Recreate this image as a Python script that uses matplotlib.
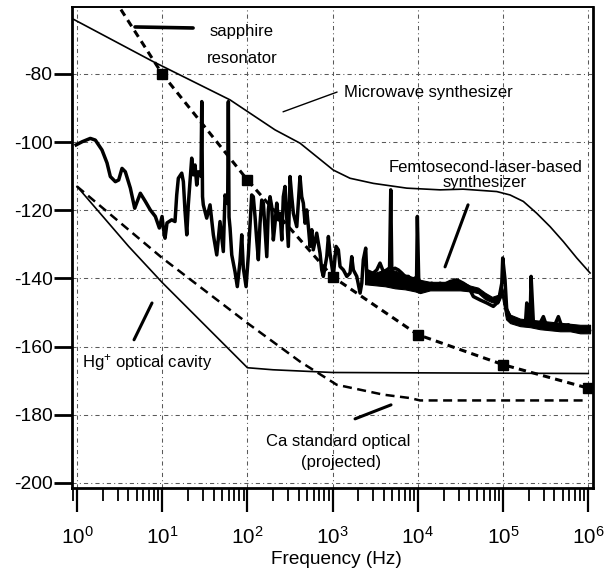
import numpy as np
import matplotlib
matplotlib.use('Agg')
import matplotlib.pyplot as plt
from matplotlib import font_manager as fm
from matplotlib.ticker import FixedLocator, NullFormatter, LogLocator

# ---------------- data (log10 frequency in Hz, phase noise in dBc/Hz) -------------
microwave_logf = [-0.06, 0.896, 1.796, 2.324, 2.617, 3.008, 3.204, 3.478, 3.870, 4.261,
                  4.531, 4.926, 5.082, 5.238, 5.396, 5.552, 5.708, 5.865, 6.021]
microwave_db = [-63.7, -76.4, -87.6, -96.4, -100.3, -108.2, -110.6, -112.1, -113.5, -114.0,
                -113.8, -114.5, -115.5, -117.4, -120.9, -124.8, -129.2, -134.0, -138.4]

sapphire_logf = [0, 1, 2, 3, 4, 5, 6]
sapphire_db = [-41.0, -80.0, -111.1, -139.5, -156.5, -165.3, -172.2]

hg_logf = [0, 0.606, 1, 2, 2.3, 3, 6]
hg_db = [-113.0, -130.6, -141.2, -166.2, -166.8, -167.6, -167.9]

ca_logf = [0, 1, 2, 2.617, 3.048, 3.595, 3.908, 4.026, 6]
ca_db = [-113.0, -134.0, -153.1, -164.4, -171.2, -174.1, -175.1, -175.8, -175.8]

femto_logf = [-0.01, 0.059, 0.156, 0.215, 0.293, 0.352, 0.391, 0.450, 0.489, 0.528,
              0.567, 0.626, 0.677, 0.743, 0.802, 0.860, 0.919, 0.966, 0.998, 1.013,
              1.033, 1.056, 1.111, 1.150, 1.170, 1.189, 1.229, 1.248, 1.268, 1.288,
              1.306, 1.346, 1.365, 1.385, 1.405, 1.424, 1.455, 1.464, 1.473, 1.482,
              1.522, 1.561, 1.600, 1.640, 1.678, 1.717, 1.737, 1.768, 1.776, 1.784,
              1.796, 1.816, 1.854, 1.881, 1.913, 1.933, 1.952, 1.984, 2.011, 2.050,
              2.069, 2.089, 2.109, 2.128, 2.148, 2.168, 2.187, 2.207, 2.227, 2.245,
              2.265, 2.285, 2.304, 2.324, 2.344, 2.363, 2.383, 2.403, 2.421, 2.441,
              2.461, 2.480, 2.500, 2.520, 2.539, 2.579, 2.617, 2.637, 2.656, 2.676,
              2.696, 2.715, 2.735, 2.755, 2.773, 2.813, 2.852, 2.872, 2.891, 2.931,
              2.950, 2.969, 3.008, 3.040, 3.067, 3.087, 3.126, 3.166, 3.204, 3.224,
              3.243, 3.283, 3.322, 3.342, 3.360, 3.388, 3.400, 3.439, 3.478, 3.518,
              3.556, 3.595, 3.635, 3.668, 3.682, 3.694, 3.732, 3.771, 3.811, 3.850,
              3.889, 3.928, 3.967, 3.985, 3.994, 4.010, 4.046, 4.104, 4.163, 4.222,
              4.261, 4.299, 4.378, 4.457, 4.534, 4.593, 4.651, 4.730, 4.809, 4.886,
              4.945, 4.985, 4.996, 5.023, 5.043, 5.082, 5.141, 5.161, 5.200, 5.238,
              5.264, 5.278, 5.297, 5.317, 5.329, 5.356, 5.415, 5.473, 5.513, 5.590,
              5.649, 5.689, 5.767, 5.825, 5.884, 5.942, 6.013]
femto_db = [-100.8, -99.9, -98.9, -99.4, -102.3, -106.1, -110.1, -111.6, -111.1, -107.7,
            -108.7, -113.5, -119.4, -115.0, -117.4, -119.9, -121.8, -125.2, -121.8, -125.2,
            -128.2, -123.7, -122.8, -123.3, -115.5, -110.6, -109.1, -111.6, -120.4, -127.2,
            -118.4, -104.7, -109.6, -106.7, -112.6, -108.7, -110.0, -88.1, -116.0, -118.4,
            -122.3, -118.4, -127.2, -133.1, -123.3, -132.1, -115.5, -118.0, -88.1, -122.0,
            -125.2, -133.1, -138.0, -142.4, -135.0, -127.2, -137.0, -142.4, -133.1, -115.5,
            -116.0, -121.8, -128.7, -134.5, -123.8, -117.0, -117.9, -125.7, -133.6, -119.9,
            -116.0, -118.9, -128.7, -123.8, -117.9, -122.8, -120.9, -128.7, -116.0, -113.0,
            -121.8, -130.6, -110.1, -116.0, -120.9, -124.8, -110.1, -116.0, -117.9, -123.8,
            -119.9, -124.8, -130.6, -125.7, -131.6, -126.7, -132.6, -137.5, -139.4, -133.6,
            -127.7, -132.6, -139.4, -130.6, -131.6, -136.5, -137.5, -139.4, -138.4, -133.6,
            -137.5, -139.4, -144.3, -141.4, -134.5, -131.1, -138.4, -139.4, -138.4, -137.5,
            -135.5, -138.0, -137.5, -136.9, -114.0, -137.5, -137.0, -137.5, -138.4, -139.4,
            -139.4, -140.4, -139.9, -139.8, -121.8, -140.4, -141.4, -141.9, -141.4, -142.4,
            -141.4, -141.9, -140.9, -140.4, -141.4, -142.4, -145.3, -146.3, -147.2, -148.2,
            -146.8, -141.4, -134.0, -140.4, -149.2, -151.2, -152.1, -152.6, -153.1, -153.1,
            -152.7, -147.2, -153.1, -152.7, -139.4, -153.1, -154.1, -151.2, -154.1, -154.6,
            -151.2, -154.1, -153.6, -155.1, -154.6, -155.6, -155.1]

# envelope of the dense noise band of the femtosecond trace (upper / lower edge)
band_logf = [3.380, 3.498, 3.615, 3.732, 3.850, 3.967, 4.026, 4.143, 4.319, 4.495,
             4.613, 4.707, 4.789, 4.871, 4.941, 4.985, 5.035, 5.082, 5.200, 5.317,
             5.434, 5.552, 5.669, 5.786, 5.904, 6.021]
band_hi = [-137.0, -138.3, -137.4, -137.7, -138.9, -139.8, -140.4, -141.0, -141.0, -140.7,
           -142.1, -142.7, -144.2, -145.4, -144.8, -142.0, -148.0, -150.6, -151.8, -152.1,
           -152.4, -152.7, -153.0, -153.3, -153.6, -153.6]
band_lo = [-141.7, -142.0, -142.3, -142.9, -143.2, -143.8, -144.3, -143.5, -143.5, -143.5,
           -143.8, -144.3, -146.1, -147.0, -147.3, -145.0, -152.0, -153.1, -154.0, -154.3,
           -154.9, -155.2, -155.5, -155.5, -156.1, -156.1]

ytick_values = [-200, -180, -160, -140, -120, -100, -80]
xtick_exponents = [0, 1, 2, 3, 4, 5, 6]

# ---------------- fonts ----------------
avail = {f.name for f in fm.fontManager.ttflist}
if 'Liberation Sans Narrow' in avail:
    MAIN = 'Liberation Sans Narrow'
    k = 1.0
else:
    MAIN = 'Liberation Sans'
    k = 0.84
plt.rcParams['font.family'] = [MAIN, 'DejaVu Sans']
plt.rcParams['mathtext.fontset'] = 'custom'
plt.rcParams['mathtext.rm'] = MAIN
plt.rcParams['mathtext.it'] = MAIN
plt.rcParams['mathtext.default'] = 'regular'

FS_ANN = 14.3 * k
FS_TICK = 16.5 * k
FS_LAB = 16.3 * k

fig = plt.figure(figsize=(6.15, 5.73), dpi=100)
ax = fig.add_axes([0.1171, 0.1483, 0.8472, 0.8395])
ax.set_xscale('log')
ax.set_xlim(10 ** -0.0587, 10 ** 6.056)
ax.set_ylim(-201.5, -60.34)

f = lambda a: 10 ** np.asarray(a, dtype=float)

ax.plot(f(microwave_logf), microwave_db, color='k', lw=1.2, zorder=3)
ax.plot(f(hg_logf), hg_db, color='k', lw=1.2, zorder=3)
ax.plot(f(ca_logf), ca_db, color='k', lw=1.8, ls=(0, (3.6, 2.2)), zorder=3)
ax.plot(f(sapphire_logf), sapphire_db, color='k', lw=2.2, ls=(0, (2.4, 1.7)),
        marker='s', ms=6.5, markevery=[1, 2, 3, 4, 5, 6], zorder=3)
ax.fill_between(f(band_logf), band_lo, band_hi, color='k', lw=0.8, zorder=4)
ax.plot(f(femto_logf), femto_db, color='k', lw=2.5, zorder=4)

# grid
ax.grid(True, which='major', color='0.35', lw=0.75, ls=(0, (4, 3, 1, 3)))
ax.set_axisbelow(True)

# ticks
ax.yaxis.set_major_locator(FixedLocator(ytick_values))
ax.set_yticklabels([str(v) for v in ytick_values], fontsize=FS_TICK)
ax.yaxis.set_minor_locator(FixedLocator([]))
ax.xaxis.set_major_locator(FixedLocator([10.0 ** e for e in xtick_exponents]))
ax.set_xticklabels([r'$10^{%d}$' % e for e in xtick_exponents], fontsize=FS_TICK * 1.08)
ax.xaxis.set_minor_locator(LogLocator(base=10, subs=np.arange(2, 10), numticks=20))
ax.xaxis.set_minor_formatter(NullFormatter())
ax.tick_params(axis='y', which='major', direction='out', length=13, width=2, pad=1)
ax.tick_params(axis='x', which='major', direction='out', length=17, width=1.6, pad=10)
ax.tick_params(axis='x', which='minor', direction='out', length=9, width=1.3)
for s in ['left', 'bottom', 'right']:
    ax.spines[s].set_linewidth(2.0)
ax.spines['top'].set_linewidth(1.4)

ax.set_xlabel('Frequency (Hz)', fontsize=FS_LAB, va='center')
ax.xaxis.set_label_coords(0.507, -0.1476)

# annotations
def lead(p0, p1, lw):
    ax.annotate('', xy=(10 ** p1[0], p1[1]), xytext=(10 ** p0[0], p0[1]),
                arrowprops=dict(arrowstyle='-', lw=lw, color='k', shrinkA=0, shrinkB=0))

lead((0.681, -66.2), (1.362, -66.5), 2.6)
lead((2.418, -91.1), (3.052, -85.3), 1.0)
lead((4.589, -118.4), (4.319, -136.6), 2.2)
lead((0.880, -147.2), (0.669, -158.0), 2.2)
lead((3.263, -181.2), (3.685, -177.1), 2.2)

def txt(lf, db, s, ha='center'):
    ax.text(10 ** lf, db, s, ha=ha, va='baseline', fontsize=FS_ANN, zorder=5)

txt(1.931, -68.85, 'sapphire')
txt(1.942, -76.86, 'resonator')
txt(4.123, -86.65, 'Microwave synthesizer')
txt(4.799, -108.66, 'Femtosecond-laser-based')
txt(4.779, -113.3, 'synthesizer')
txt(0.055, -166.06, r'Hg$^{+}$ optical cavity', ha='left')
txt(3.063, -189.1, 'Ca standard optical')
txt(3.096, -195.4, '(projected)')

fig.savefig('out.png', dpi=100)
